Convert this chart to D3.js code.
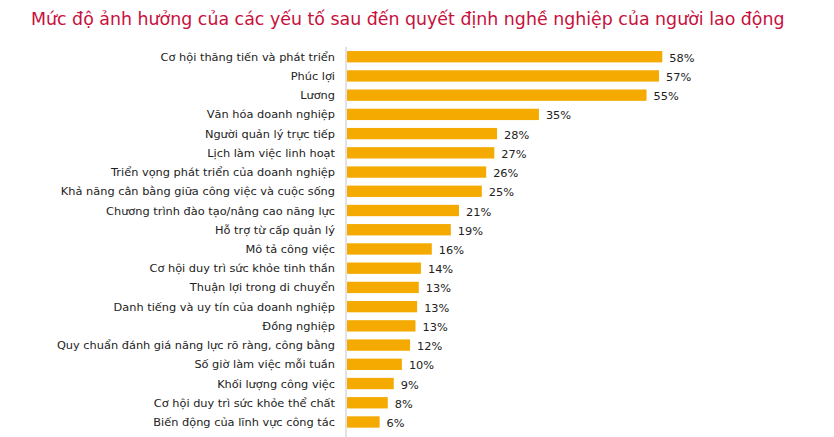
<!DOCTYPE html>
<html>
<head>
<meta charset="utf-8">
<script src="https://cdn.jsdelivr.net/npm/d3@7"></script>
<style>
  body { margin: 0; background: #fff; }
  text { font-family: "DejaVu Sans", Verdana, sans-serif; }
</style>
</head>
<body>
<script>
  var width = 834;
  var height = 437;

  var title = "Mức độ ảnh hưởng của các yếu tố sau đến quyết định nghề nghiệp của người lao động";

  var categories = [
    "Cơ hội thăng tiến và phát triển",
    "Phúc lợi",
    "Lương",
    "Văn hóa doanh nghiệp",
    "Người quản lý trực tiếp",
    "Lịch làm việc linh hoạt",
    "Triển vọng phát triển của doanh nghiệp",
    "Khả năng cân bằng giữa công việc và cuộc sống",
    "Chương trình đào tạo/nâng cao năng lực",
    "Hỗ trợ từ cấp quản lý",
    "Mô tả công việc",
    "Cơ hội duy trì sức khỏe tinh thần",
    "Thuận lợi trong di chuyển",
    "Danh tiếng và uy tín của doanh nghiệp",
    "Đồng nghiệp",
    "Quy chuẩn đánh giá năng lực rõ ràng, công bằng",
    "Số giờ làm việc mỗi tuần",
    "Khối lượng công việc",
    "Cơ hội duy trì sức khỏe thể chất",
    "Biến động của lĩnh vực công tác"
  ];

  // bar lengths (%), labels are the printed values
  var values = [58.0, 57.4, 55.1, 35.3, 27.6, 27.1, 25.6, 24.8, 20.6, 19.1,
                15.6, 13.6, 13.2, 12.9, 12.6, 11.6, 10.1, 8.6, 7.5, 6.0];
  var labels = [58, 57, 55, 35, 28, 27, 26, 25, 21, 19,
                16, 14, 13, 13, 13, 12, 10, 9, 8, 6];

  var barColor = '#f4aa00';
  var titleColor = '#c8103c';

  var x0 = 347;

  var x = d3.scaleLinear()
    .domain([0, 58])
    .range([x0, 662.3]);

  var y = d3.scaleBand()
    .domain(categories)
    .range([47.1, 431.6])
    .paddingInner(0.41)
    .paddingOuter(0.205);

  var svg = d3.select("body")
    .append("svg")
    .attr("width", width)
    .attr("height", height);

  svg.append("text")
    .attr("x", 31)
    .attr("y", 24.5)
    .style("font-size", "17.4px")
    .style("fill", titleColor)
    .text(title);

  svg.selectAll("rect.bar")
    .data(values)
    .enter()
    .append("rect")
    .attr("class", "bar")
    .attr("x", x(0))
    .attr("y", function(d, i) { return y(categories[i]); })
    .attr("width", function(d) { return x(d) - x(0); })
    .attr("height", y.bandwidth())
    .style("fill", barColor);

  // vertical axis line
  svg.append("line")
    .attr("x1", x0 - 1)
    .attr("x2", x0 - 1)
    .attr("y1", 46.7)
    .attr("y2", height)
    .style("stroke", "#d9d9d9")
    .style("stroke-width", 1.5);

  svg.selectAll("text.cat")
    .data(categories)
    .enter()
    .append("text")
    .attr("class", "cat")
    .attr("x", 335)
    .attr("y", function(d) { return y(d) + y.bandwidth() / 2; })
    .attr("dy", "0.36em")
    .attr("text-anchor", "end")
    .style("font-size", "11.35px")
    .style("fill", "#222")
    .text(function(d) { return d; });

  svg.selectAll("text.val")
    .data(values)
    .enter()
    .append("text")
    .attr("class", "val")
    .attr("x", function(d) { return x(d) + 7; })
    .attr("y", function(d, i) { return y(categories[i]) + y.bandwidth() / 2 + 1; })
    .attr("dy", "0.36em")
    .style("font-size", "11.35px")
    .style("fill", "#222")
    .text(function(d, i) { return labels[i] + "%"; });
</script>
</body>
</html>
